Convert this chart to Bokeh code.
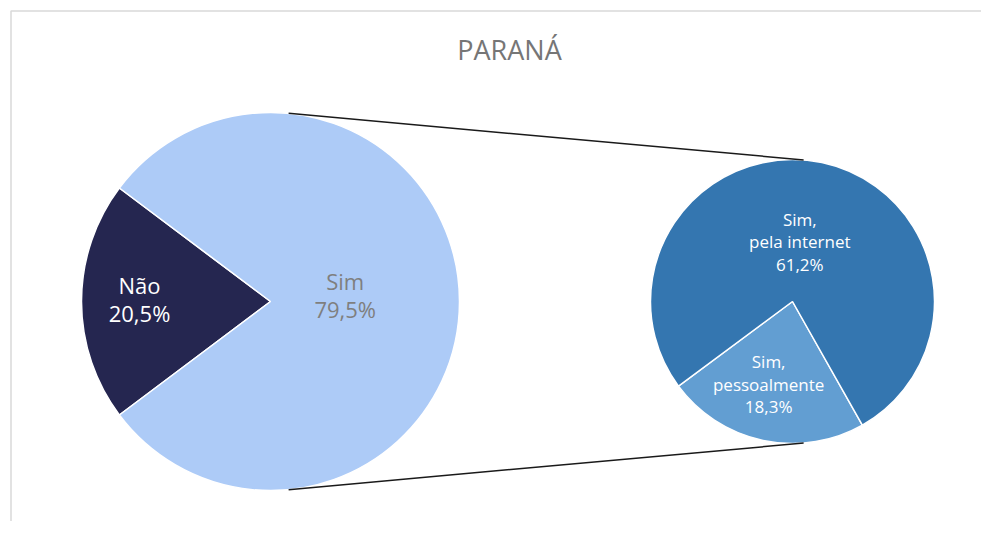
import math
from bokeh.plotting import figure
from bokeh.models import ColumnDataSource, Range1d
from bokeh.core.properties import value
from bokeh.embed import file_html
from bokeh.resources import INLINE

# ---- data ----
title = "PARANÁ"
main_categories = ["Não", "Sim"]
main_values = [20.5, 79.5]
sub_categories = ["Sim,\npessoalmente", "Sim,\npela internet"]
sub_values = [18.3, 61.2]

main_colors = ["#252650", "#ADCBF7"]
sub_colors = ["#629ED2", "#3476B0"]
main_label_colors = ["#FFFFFF", "#7F7F7F"]
sub_label_colors = ["#FFFFFF", "#FFFFFF"]

W, H = 981, 521
FONT = "Open Sans"

def sx(x):  # screen x -> data x
    return x

def sy(y):  # screen y -> data y
    return H - y

p = figure(width=W, height=H, output_backend="svg", toolbar_location=None,
           x_range=Range1d(0, W), y_range=Range1d(0, H), min_border=0)
p.axis.visible = False
p.grid.visible = False
p.outline_line_color = None
p.background_fill_color = "white"
p.border_fill_color = "white"

# chart border
p.quad(left=[sx(10.5)], right=[sx(1010)], top=[sy(10.5)], bottom=[sy(560)],
       fill_color=None, line_color="#D9D9D9", line_width=1.5)

def fmt(v):
    return f"{v:.1f}%".replace(".", ",")

# ---- main pie ----
cx1, cy1, r1 = sx(270), sy(301), 189
tot = sum(main_values)
half_nao = main_values[0] / tot * math.pi
starts1 = [math.pi - half_nao, math.pi + half_nao]
ends1 = [math.pi + half_nao, math.pi - half_nao + 2 * math.pi]
src1 = ColumnDataSource(dict(start=starts1, end=ends1, color=main_colors))
p.wedge(x=cx1, y=cy1, radius=r1, start_angle="start", end_angle="end",
        fill_color="color", line_color="white", line_width=1.5, source=src1)

# ---- sub pie ----
cx2, cy2, r2 = sx(792), sy(301), 142
stot = sum(sub_values)
a0 = math.radians(216.6)
s2, e2 = [], []
a = a0
for v in sub_values:
    s2.append(a)
    a += v / stot * 2 * math.pi
    e2.append(a)
src2 = ColumnDataSource(dict(start=s2, end=e2, color=sub_colors))
p.wedge(x=cx2, y=cy2, radius=r2, start_angle="start", end_angle="end",
        fill_color="color", line_color="white", line_width=1.5, source=src2)

# ---- connectors ----
ca = math.radians(84.5)
cb = math.radians(85.5)
p.segment(x0=[cx1 + r1 * math.cos(ca), cx1 + r1 * math.cos(-ca)],
          y0=[cy1 + r1 * math.sin(ca), cy1 + r1 * math.sin(-ca)],
          x1=[cx2 + r2 * math.cos(cb), cx2 + r2 * math.cos(-cb)],
          y1=[cy2 + r2 * math.sin(cb), cy2 + r2 * math.sin(-cb)],
          line_color="#1A1A1A", line_width=1.5)

# ---- labels ----
m_lab_r = [131, 75]
m_lab_a = [math.radians(179), math.radians(5)]
lx1 = [cx1 + r * math.cos(t) for r, t in zip(m_lab_r, m_lab_a)]
ly1 = [cy1 + r * math.sin(t) for r, t in zip(m_lab_r, m_lab_a)]
txt1 = [f"{c}\n{fmt(v)}" for c, v in zip(main_categories, main_values)]
p.text(x=lx1, y=ly1, text=txt1, text_color=main_label_colors,
       text_font=value(FONT), text_font_size="22px", text_align="center",
       text_baseline="middle", text_line_height=0.92)

s_lab_r = [86, 60]
s_lab_a = [math.radians(106.1), math.radians(83)]
lx2 = [cx2 + r * math.cos(t) for r, t in zip(s_lab_r, s_lab_a)]
ly2 = [cy2 - r * math.sin(t) if i == 0 else cy2 + r * math.sin(t)
       for i, (r, t) in enumerate(zip(s_lab_r, s_lab_a))]
txt2 = [f"{c}\n{fmt(v)}" for c, v in zip(sub_categories, sub_values)]
p.text(x=lx2, y=ly2, text=txt2, text_color=sub_label_colors,
       text_font=value(FONT), text_font_size="17px", text_align="center",
       text_baseline="middle", text_line_height=0.98)

# ---- title ----
p.text(x=[sx(509)], y=[sy(49)], text=[title], text_color="#767676",
       text_font=value(FONT), text_font_size="27px", text_align="center",
       text_baseline="middle")

open("out.html", "w").write(file_html(p, INLINE))
